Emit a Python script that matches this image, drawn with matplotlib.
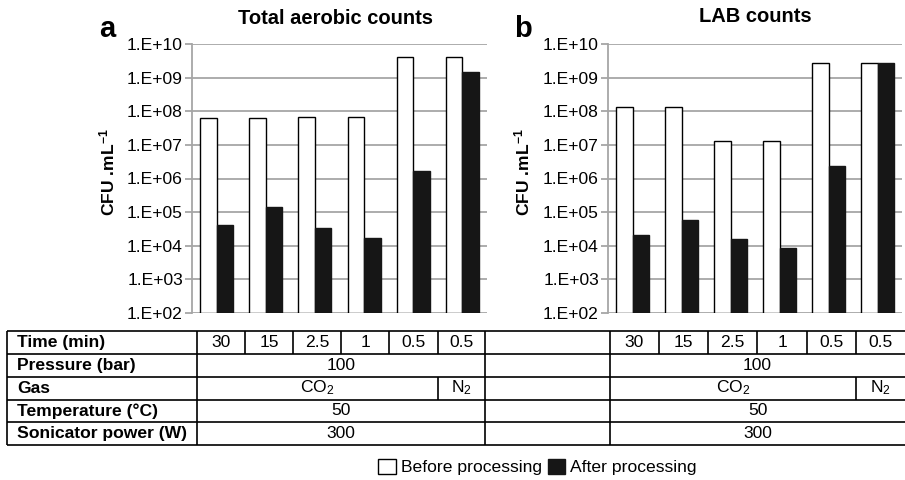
import numpy as np
import matplotlib
matplotlib.use('Agg')
import matplotlib.pyplot as plt
from matplotlib.patches import Patch
from matplotlib.ticker import FixedLocator, FuncFormatter, NullLocator

plt.rcParams['font.family'] = ['Liberation Sans', 'DejaVu Sans']
plt.rcParams['mathtext.fontset'] = 'custom'
plt.rcParams['mathtext.rm'] = 'Liberation Sans'
plt.rcParams['mathtext.bf'] = 'Liberation Sans:bold'
plt.rcParams['mathtext.it'] = 'Liberation Sans:italic'

# 数据
aerobic_before = [6.2e7, 6.2e7, 6.8e7, 6.8e7, 4.0e9, 4.0e9]
aerobic_after = [4.2e4, 1.42e5, 3.3e4, 1.75e4, 1.63e6, 1.51e9]
lab_before = [1.34e8, 1.34e8, 1.34e7, 1.34e7, 2.8e9, 2.8e9]
lab_after = [2.05e4, 5.7e4, 1.6e4, 8.8e3, 2.35e6, 2.8e9]

row_labels = ['Time (min)', 'Pressure (bar)', 'Gas', 'Temperature (°C)', 'Sonicator power (W)']
times = ['30', '15', '2.5', '1', '0.5', '0.5']
pressure = '100'
gases = ['CO$_2$', 'N$_2$']
temperature = '50'
power = '300'

W, H = 905, 480
fig = plt.figure(figsize=(W / 100, H / 100), dpi=100)

# 整图像素坐标的叠加层，用来画表格
ov = fig.add_axes([0, 0, 1, 1])
ov.set_xlim(0, W)
ov.set_ylim(H, 0)
ov.axis('off')

GRID = '#a6a6a6'
base = 1e2


def panel(left, right, before, after, title, letter, tx, ty, lx, ly, yl_x):
    ax = fig.add_axes([left / W, 1 - 313 / H, (right - left) / W, 269 / H])
    x = np.arange(len(before))
    bw = 0.337
    ax.bar(x - bw / 2, np.array(before) - base, bw, bottom=base, color='white',
           edgecolor='black', linewidth=1, zorder=3)
    ax.bar(x + bw / 2, np.array(after) - base, bw, bottom=base, color='#161616',
           edgecolor='#161616', linewidth=1, zorder=3)
    ax.set_yscale('log')
    ax.set_ylim(1e2, 1e10)
    ax.set_xlim(-0.5, len(before) - 0.5)
    ax.yaxis.set_major_locator(FixedLocator([10.0 ** k for k in range(2, 11)]))
    ax.yaxis.set_minor_locator(NullLocator())
    ax.yaxis.set_major_formatter(FuncFormatter(lambda v, p: '1.E+%02d' % round(np.log10(v))))
    ax.set_xticks([])
    ax.grid(axis='y', color=GRID, linewidth=1.3, zorder=0)
    for s in ['top', 'right', 'bottom']:
        ax.spines[s].set_visible(False)
    ax.spines['left'].set_color(GRID)
    ax.spines['left'].set_linewidth(1.3)
    ax.tick_params(axis='y', length=5, width=1.3, color=GRID, pad=1.5, labelsize=12.6)
    fig.text(tx / W, 1 - ty / H, title, ha='center', va='center', fontsize=14.5, fontweight='bold')
    fig.text(lx / W, 1 - ly / H, letter, ha='left', va='baseline', fontsize=21, fontweight='bold')
    fig.text(yl_x / W, 1 - 172 / H, r'CFU .mL$^{\mathbf{-1}}$', rotation=90, ha='center',
             va='center', fontsize=12.6, fontweight='bold')
    return ax


panel(192, 487, aerobic_before, aerobic_after, 'Total aerobic counts', 'a', 335, 18.5, 99, 37, 107)
panel(608, 902, lab_before, lab_after, 'LAB counts', 'b', 755.5, 16.5, 514, 37, 522)

# 表格
rows = [330.7, 353.5, 376.6, 399.5, 422.4, 445.4]
left_edge, lab_end = 7, 197
cols_a = [197, 245, 293, 341, 389, 437.5, 485]
cols_b = [610, 659, 708, 757, 807, 856, 905]
lk = dict(color='black', linewidth=1.2, solid_capstyle='butt')

for y in rows:
    ov.plot([left_edge, W], [y, y], **lk)
for xv in [left_edge, lab_end, 485, 610]:
    ov.plot([xv, xv], [rows[0], rows[-1]], **lk)
for cols in (cols_a, cols_b):
    for xv in cols[1:-1]:
        ov.plot([xv, xv], [rows[0], rows[1]], **lk)
    ov.plot([cols[5], cols[5]], [rows[2], rows[3]], **lk)

fs = 12.6
for i, lab in enumerate(row_labels):
    yc = (rows[i] + rows[i + 1]) / 2
    ov.text(17, yc, lab, ha='left', va='center', fontsize=fs, fontweight='bold')

for cols in (cols_a, cols_b):
    yc = [(rows[i] + rows[i + 1]) / 2 for i in range(5)]
    for j, t in enumerate(times):
        ov.text((cols[j] + cols[j + 1]) / 2, yc[0], t, ha='center', va='center', fontsize=fs)
    mid = (cols[0] + cols[-1]) / 2
    ov.text(mid, yc[1], pressure, ha='center', va='center', fontsize=fs)
    ov.text((cols[0] + cols[5]) / 2, yc[2], gases[0], ha='center', va='center', fontsize=fs)
    ov.text((cols[5] + cols[6]) / 2, yc[2], gases[1], ha='center', va='center', fontsize=fs)
    ov.text(mid, yc[3], temperature, ha='center', va='center', fontsize=fs)
    ov.text(mid, yc[4], power, ha='center', va='center', fontsize=fs)

handles = [Patch(facecolor='white', edgecolor='black', linewidth=1, label='Before processing'),
           Patch(facecolor='#161616', edgecolor='#161616', linewidth=1, label='After processing')]
fig.legend(handles=handles, loc='center', bbox_to_anchor=(537.5 / W, 1 - 467 / H), ncol=2,
           frameon=False, fontsize=12.6, handlelength=1.0, handleheight=1.0,
           handletextpad=0.28, columnspacing=0.35, borderpad=0)

fig.savefig('out.png', dpi=100)
